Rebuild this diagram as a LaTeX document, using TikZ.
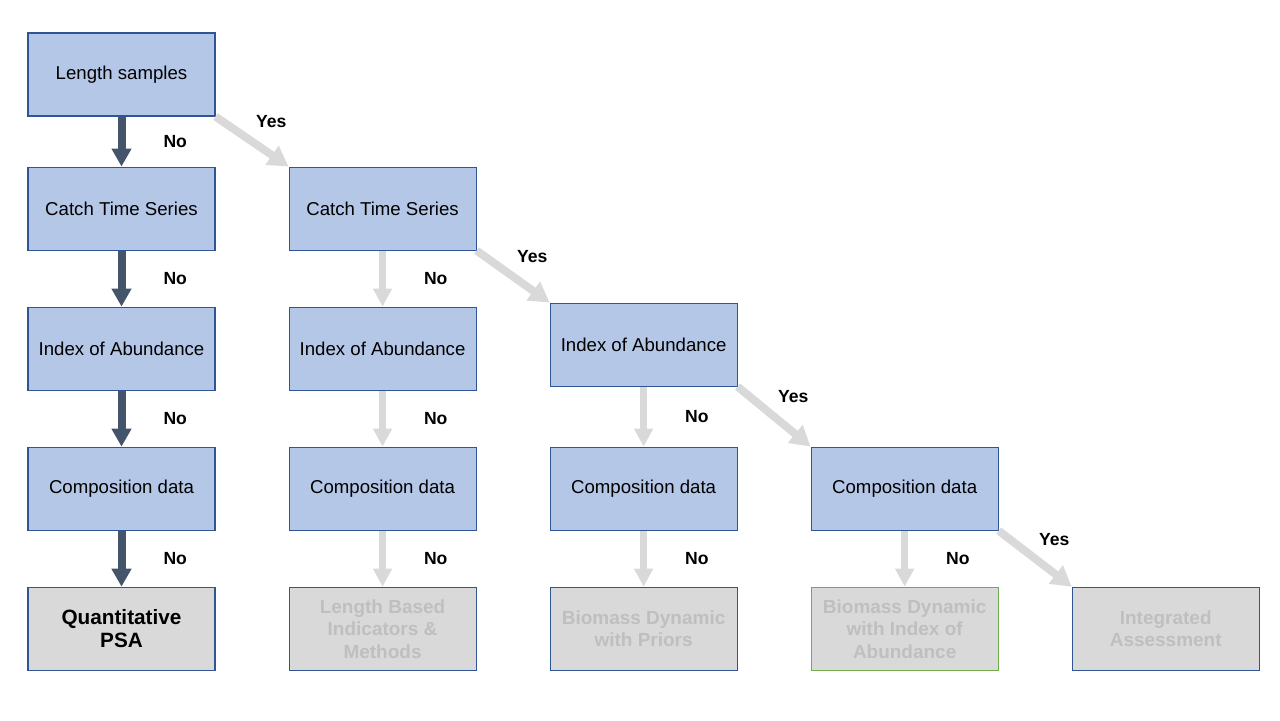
\documentclass[tikz,border=0pt]{standalone}
\usepackage{fontspec}
\setmainfont{Liberation Sans}
\usepackage{tikz}
\usetikzlibrary{positioning,arrows.meta}
\definecolor{c_data}{HTML}{B4C7E7}
\definecolor{c_line}{HTML}{2F5597}
\definecolor{c_end}{HTML}{D9D9D9}
\definecolor{c_faded}{HTML}{BFBFBF}
\definecolor{c_dark}{HTML}{44546A}
\definecolor{c_green}{HTML}{70AD47}
\tikzset{c-rectangle/.style={rectangle, minimum width=3.74cm, minimum height=1.66cm, align=center, draw=c_line, line width=0.6pt, fill=c_data, font=\fontsize{10.6}{13}\selectfont},
c-method/.style={c-rectangle, fill=c_end, text=c_faded, font=\fontsize{10.8}{12.8}\selectfont\bfseries},
arrow-no/.style={line width=0.16cm, draw=c_dark, -{Triangle[length=0.36cm, width=0.38cm]}},
arrow-grey/.style={line width=0.14cm, draw=c_end, -{Triangle[length=0.36cm, width=0.36cm]}},
arrow-yes/.style={line width=0.16cm, draw=c_end, -{Triangle[length=0.4cm, width=0.44cm]}},
no-label/.style={midway, anchor=west, inner sep=0pt, xshift=0.76cm, font=\fontsize{10}{12}\selectfont\bfseries},
yes-label/.style={midway, anchor=south west, inner sep=0pt, yshift=0.19cm, font=\fontsize{10}{12}\selectfont\bfseries}}

\begin{document}
\begin{tikzpicture}[node distance = 1.12cm]
\useasboundingbox (0,0) rectangle (25.6,-14.4);
% first column
\node (n0) [c-rectangle] at (2.43,-1.49) {Length samples};
\node (c1) [c-rectangle, below=1.0cm of n0] {Catch Time Series};
\node (i1) [c-rectangle, below=of c1] {Index of Abundance};
\node (p1) [c-rectangle, below=of i1] {Composition data};
\node (q1) [c-method, below=of p1, text=black, font=\fontsize{11.8}{12.9}\selectfont\bfseries] {Quantitative\\PSA};
% second column
\node (c2) [c-rectangle, right=1.46cm of c1] {Catch Time Series};
\node (i2) [c-rectangle, below=of c2] {Index of Abundance};
\node (p2) [c-rectangle, below=of i2] {Composition data};
\node (q2) [c-method, below=of p2] {Length Based\\Indicators \&\\Methods};
% third column
\node (i3) [c-rectangle, right=1.46cm of i2, yshift=0.08cm] {Index of Abundance};
\node (p3) [c-rectangle, right=1.46cm of p2] {Composition data};
\node (q3) [c-method, below=of p3] {Biomass Dynamic\\with Priors};
% fourth and fifth column
\node (p4) [c-rectangle, right=1.46cm of p3] {Composition data};
\node (q4) [c-method, below=of p4, draw=c_green] {Biomass Dynamic\\with Index of\\Abundance};
\node (q5) [c-method, right=1.46cm of q4] {Integrated\\Assessment};

\draw [arrow-no] (n0) -- node[no-label] {No} (c1);
\draw [arrow-no] (c1) -- node[no-label] {No} (i1);
\draw [arrow-no] (i1) -- node[no-label] {No} (p1);
\draw [arrow-no] (p1) -- node[no-label] {No} (q1);
\draw [arrow-grey] (c2) -- node[no-label, text=black] {No} (i2);
\draw [arrow-grey] (i2) -- node[no-label, text=black] {No} (p2);
\draw [arrow-grey] (p2) -- node[no-label, text=black] {No} (q2);
\draw [arrow-grey] (i3) -- node[no-label, text=black] {No} (p3);
\draw [arrow-grey] (p3) -- node[no-label, text=black] {No} (q3);
\draw [arrow-grey] (p4) -- node[no-label, text=black] {No} (q4);
\draw [arrow-yes] (n0.south east) -- node[yes-label, text=black] {Yes} (c2.north west);
\draw [arrow-yes] (c2.south east) -- node[yes-label, text=black] {Yes} (i3.north west);
\draw [arrow-yes] (i3.south east) -- node[yes-label, text=black] {Yes} (p4.north west);
\draw [arrow-yes] (p4.south east) -- node[yes-label, text=black] {Yes} (q5.north west);
\end{tikzpicture}
\end{document}
